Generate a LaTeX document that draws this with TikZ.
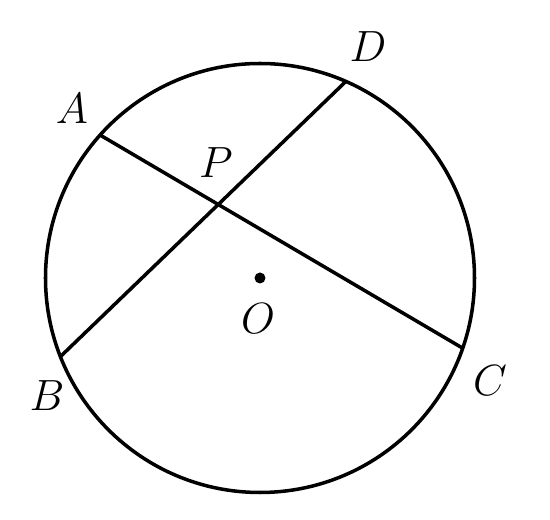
\documentclass[tikz,border=0pt]{standalone}
\usepackage{amsmath,amssymb}
\usetikzlibrary{calc}
\usetikzlibrary{positioning}

\tikzset{
  chord/.style = {line width=2pt},
  ptlabel/.style = {inner sep=0pt, font=\fontsize{30}{35}\selectfont}
}

\begin{document}
\begin{tikzpicture}
      \useasboundingbox (-5.2, -4.84) rectangle (5.8, 5.56);

      \coordinate (O) at (0, 0);
      \coordinate (A) at (138.2:4.29);
      \coordinate (B) at (201.5:4.29);
      \coordinate (C) at (-19.1:4.29);
      \coordinate (D) at (66.4:4.29);
      \coordinate (P) at (intersection of A--C and B--D);

      \draw[chord] (O) circle (4.29);
      \draw[chord] (A) -- (C);
      \draw[chord] (B) -- (D);
      \fill (O) circle (0.11);

      \node[ptlabel] (labA) at (-3.76, 3.38) {$A$};
      \node[ptlabel] (labB) at (-4.26, -2.36) {$B$};
      \node[ptlabel] (labC) at (4.6, -2.06) {$C$};
      \node[ptlabel] (labD) at (2.16, 4.62) {$D$};
      \node[ptlabel] (labP) at (-0.88, 2.3) {$P$};
      \node[ptlabel] (labO) at (-0.04, -0.82) {$O$};
    \end{tikzpicture}
\end{document}
